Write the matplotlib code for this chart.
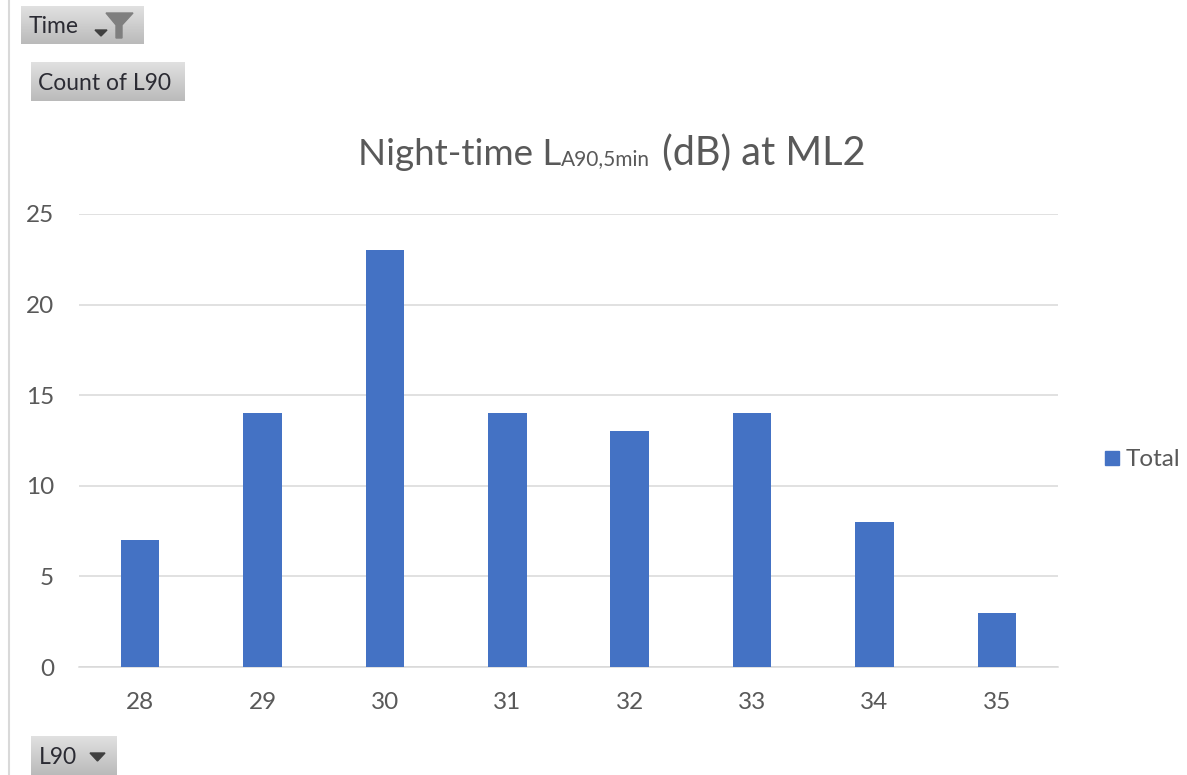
import numpy as np
import matplotlib
matplotlib.use("Agg")
import matplotlib.pyplot as plt
from matplotlib.patches import Rectangle, Polygon

W, H = 1187, 775

# data
categories = ["28", "29", "30", "31", "32", "33", "34", "35"]
counts = [7, 14, 23, 14, 13, 14, 8, 3]
y_ticks = [0, 5, 10, 15, 20, 25]

BLUE = "#4472C4"
GREY = "#595959"
plt.rcParams["font.family"] = ["Lato", "DejaVu Sans"]

fig = plt.figure(figsize=(W / 100, H / 100), dpi=100)

# main chart
ax = fig.add_axes([79 / W, 1 - 667 / H, (1058 - 79) / W, (667 - 214) / H])
x = np.arange(len(categories))
ax.bar(x, counts, width=0.315, color=BLUE, label="Total", zorder=3)
ax.set_xlim(-0.5, len(categories) - 0.5)
ax.set_ylim(0, 25)
ax.set_xticks(x)
ax.set_xticklabels(categories)
ax.set_yticks(y_ticks)
ax.tick_params(axis="both", length=0, labelsize=17.5, labelcolor=GREY)
ax.tick_params(axis="x", pad=18)
ax.tick_params(axis="y", pad=18)
ax.grid(axis="y", color="#D9D9D9", linewidth=1.1, zorder=0)
ax.set_axisbelow(True)
for name in ["top", "left", "right"]:
    ax.spines[name].set_visible(False)
ax.spines["bottom"].set_color("#D9D9D9")
ax.spines["bottom"].set_linewidth(1.1)

# overlay in pixel coordinates for the pivot chart buttons
ov = fig.add_axes([0, 0, 1, 1], zorder=5)
ov.set_xlim(0, W)
ov.set_ylim(H, 0)
ov.axis("off")
ov.patch.set_alpha(0)

ov.plot([9, 9], [0, H], color="#D9D9D9", linewidth=1.5)

grad = np.linspace(0.88, 0.73, 64).reshape(-1, 1)


def button(x0, y0, x1, y1, label):
    ov.imshow(grad, extent=[x0, x1, y1, y0], cmap="gray", vmin=0, vmax=1,
              aspect="auto", zorder=1)
    ov.text(x0 + 7.5, (y0 + y1) / 2 + 1.5, label, fontsize=16.5, color="#2B2B33",
            ha="left", va="center", zorder=2)


button(21, 6, 144, 44, "Time")
button(31, 62, 185, 101, "Count of L90")
button(31, 736, 117, 775, "L90")
ov.set_xlim(0, W)
ov.set_ylim(H, 0)

# dropdown arrows and filter icon
ov.add_patch(Polygon([[95, 30], [107, 30], [101, 36]], color="#404040", zorder=3))
ov.add_patch(Polygon([[106, 13], [133, 13], [122, 25], [122, 38], [116, 38], [116, 25]],
                     color="#7F7F7F", zorder=3))
ov.add_patch(Polygon([[90, 753], [105, 753], [97.5, 761]], color="#404040", zorder=3))

# title, built from pieces because of the small subscript
renderer = fig.canvas.get_renderer()
pos = 358
for piece, size, gap in [("Night-time L", 26.5, 0), ("A90,5min", 15, 2), (" (dB) at ML2", 28.5, 0)]:
    t = ov.text(pos, 165, piece, fontsize=size, color=GREY, ha="left", va="baseline", zorder=3)
    pos = t.get_window_extent(renderer).x1 + gap

# legend
ov.add_patch(Rectangle((1105, 451), 14, 14, color=BLUE, zorder=3))
ov.text(1126, 460, "Total", fontsize=17.5, color=GREY, ha="left", va="center", zorder=3)

fig.savefig("out.png", dpi=100)
